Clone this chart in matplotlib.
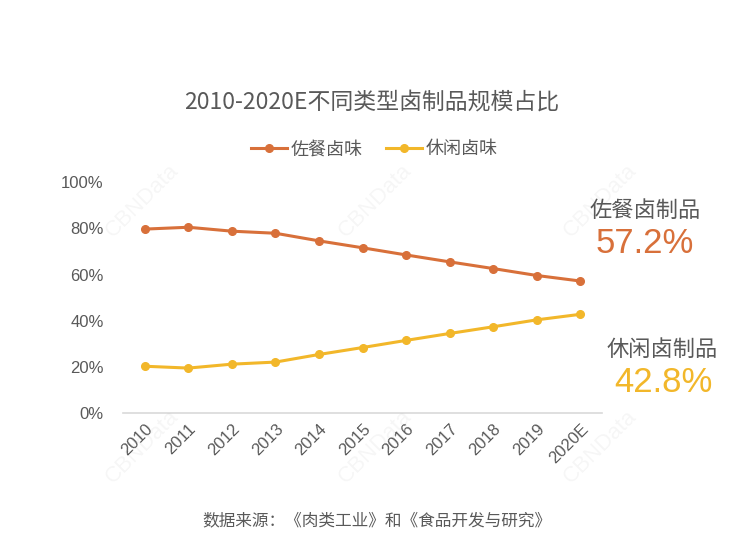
import matplotlib
matplotlib.use("Agg")
import matplotlib.pyplot as plt
from matplotlib.ticker import PercentFormatter

plt.rcParams["font.family"] = ["Noto Sans CJK SC", "DejaVu Sans"]

YEARS = ["2010", "2011", "2012", "2013", "2014", "2015", "2016", "2017", "2018", "2019", "2020E"]
CANYIN = [79.7, 80.5, 78.8, 77.9, 74.6, 71.6, 68.5, 65.5, 62.6, 59.6, 57.2]
XIUXIAN = [20.3, 19.5, 21.2, 22.1, 25.4, 28.4, 31.5, 34.5, 37.4, 40.4, 42.8]
SERIES_NAMES = ["佐餐卤味", "休闲卤味"]
END_LABELS = ["佐餐卤制品", "休闲卤制品"]

ORANGE = "#D8703A"
YELLOW = "#F2B72A"
GREY = "#595959"

fig = plt.figure(figsize=(7.5, 5.59), dpi=100)
ax = fig.add_axes([0.164, 0.261, 0.639, 0.413])

x = range(len(YEARS))
ax.plot(x, CANYIN, color=ORANGE, lw=2.2, marker="o", ms=5.5, label=SERIES_NAMES[0])
ax.plot(x, XIUXIAN, color=YELLOW, lw=2.2, marker="o", ms=5.5, label=SERIES_NAMES[1])

ax.set_xlim(-0.5, len(YEARS) - 0.5)
ax.set_ylim(0, 100)
ax.set_yticks(range(0, 101, 20))
ax.yaxis.set_major_formatter(PercentFormatter(decimals=0))
ax.set_xticks(list(x))
ax.set_xticklabels(YEARS, rotation=45, ha="right", rotation_mode="anchor")
for lab in ax.get_xticklabels() + ax.get_yticklabels():
    lab.set_family(["Liberation Sans", "DejaVu Sans"])
    lab.set_fontsize(12)
    lab.set_color(GREY)
ax.tick_params(length=0)
ax.tick_params(axis="x", pad=6)
ax.tick_params(axis="y", pad=14)
for side in ["top", "right", "left"]:
    ax.spines[side].set_visible(False)
ax.spines["bottom"].set_color("#D9D9D9")
ax.spines["bottom"].set_linewidth(1.2)

fig.text(0.495, 0.818, "2010-2020E不同类型卤制品规模占比", ha="center", va="center",
         fontsize=16.5, color=GREY)
fig.legend(loc="center", bbox_to_anchor=(0.499, 0.733), ncol=2, frameon=False,
           fontsize=13, labelcolor=GREY, handlelength=2.0, handletextpad=0.2,
           columnspacing=1.3)

fig.text(0.86, 0.623, END_LABELS[0], ha="center", va="center", fontsize=16, color=GREY)
fig.text(0.86, 0.564, f"{CANYIN[-1]:.1f}%", ha="center", va="center", fontsize=25,
         color=ORANGE, family=["Liberation Sans", "DejaVu Sans"])
fig.text(0.883, 0.374, END_LABELS[1], ha="center", va="center", fontsize=16, color=GREY)
fig.text(0.885, 0.316, f"{XIUXIAN[-1]:.1f}%", ha="center", va="center", fontsize=25,
         color=YELLOW, family=["Liberation Sans", "DejaVu Sans"])

fig.text(0.502, 0.068, "数据来源：《肉类工业》和《食品开发与研究》", ha="center", va="center",
         fontsize=12, color=GREY)

# faint watermark
for wx, wy in [(0.19, 0.64), (0.5, 0.64), (0.8, 0.64), (0.19, 0.2), (0.5, 0.2), (0.8, 0.2)]:
    fig.text(wx, wy, "CBNData", rotation=45, ha="center", va="center", fontsize=16,
             color="#000000", alpha=0.04, family=["Liberation Sans", "DejaVu Sans"])

fig.savefig("out.png", dpi=100)
